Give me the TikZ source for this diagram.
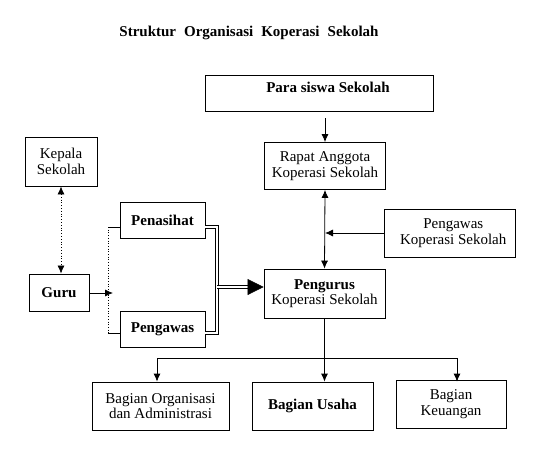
\documentclass[tikz,border=0pt]{standalone}
\usepackage{fontspec}
\setmainfont{Liberation Serif}
\usetikzlibrary{arrows.meta}
\begin{document}
\begin{tikzpicture}[x=1pt,y=-1pt,
  box/.style={draw, line width=0.8pt, inner sep=0pt, align=center, font=\fontsize{15}{15.5}\selectfont},
  arr/.style={line width=0.8pt, -{Latex[length=8pt,width=7pt]}},
  darr/.style={line width=0.8pt, {Latex[length=8pt,width=7pt]}-{Latex[length=8pt,width=7pt]}},
  dbl/.style={double, double distance=1.4pt, line width=0.9pt}]
\useasboundingbox (0,0) rectangle (543,455);
\node[font=\bfseries\fontsize{15}{15}\selectfont] (title) at (249,33) {Struktur\hspace{8pt}Organisasi\hspace{8pt}Koperasi\hspace{8pt}Sekolah};
\node[box, minimum width=228pt, minimum height=36pt] (para) at (319,93) {\hspace*{18pt}\bfseries Para siswa Sekolah\\[-4pt]\mbox{}};
\node[box, minimum width=121pt, minimum height=47pt] (rapat) at (325,166) {Rapat Anggota\\Koperasi Sekolah};
\node[box, minimum width=131pt, minimum height=48pt] (pks) at (449.5,233) {\ \ Pengawas\\\ \ Koperasi\ Sekolah};
\node[box, minimum width=121pt, minimum height=49pt] (pengurus) at (324.5,293.5) {\bfseries Pengurus\\Koperasi Sekolah};
\node[box, minimum width=72pt, minimum height=49pt] (kepala) at (61,161.5) {Kepala\\Sekolah};
\node[box, minimum width=60pt, minimum height=37pt] (guru) at (59,292.5) {\bfseries Guru};
\node[box, minimum width=85pt, minimum height=36pt] (penasihat) at (162.5,220) {\bfseries Penasihat};
\node[box, minimum width=85pt, minimum height=36pt] (pengawas) at (162.5,329) {\bfseries Pengawas};
\node[box, minimum width=137pt, minimum height=48pt] (bo) at (160.5,406) {Bagian Organisasi\\dan Administrasi};
\node[box, minimum width=121pt, minimum height=48pt] (bu) at (312.5,406) {\bfseries Bagian Usaha};
\node[box, minimum width=110pt, minimum height=48pt] (bk) at (451,404) {Bagian\\Keuangan};
% top
\draw[arr, shorten <=7pt] (para.south -| rapat.north) -- (rapat.north);
\draw[darr] (rapat.south) -- (pengurus.north);
\draw[arr] (pks.west) -- (pks.west -| rapat.south);
% left
\draw[darr, dotted, line width=0.7pt] (kepala.south) -- (kepala.south |- guru.north);
\coordinate (gt) at (113,293);
\draw[arr] (guru.east |- gt) -- (gt);
\coordinate (bt) at (108,227);
\coordinate (bb) at (108,333);
\draw[dotted, line width=0.7pt] (bt) -- (bb);
\draw[line width=0.7pt] (bt) -- (bt -| penasihat.west);
\draw[line width=0.7pt] (bb) -- (bb -| pengawas.west);
\coordinate (rt) at (217,227);
\coordinate (rb) at (217,333);
\coordinate (jn) at (217,287);
\draw[dbl] (rt -| penasihat.east) -- (rt) -- (rb) -- (rb -| pengawas.east);
\draw[dbl] (jn) -- ([xshift=-14pt]jn -| pengurus.west);
\draw[line width=0.4pt, -{Triangle[length=16pt,width=16pt]}] ([xshift=-16pt]jn -| pengurus.west) -- (jn -| pengurus.west);
% bottom
\draw[arr] (pengurus.south) -- (pengurus.south |- bu.north);
\coordinate (hl) at (157,358);
\coordinate (hr) at (457,358);
\draw[line width=0.8pt] (hl) -- (hr);
\draw[arr] (hl) -- (hl |- bo.north);
\draw[arr] (hr) -- (hr |- bo.north);
\end{tikzpicture}
\end{document}
